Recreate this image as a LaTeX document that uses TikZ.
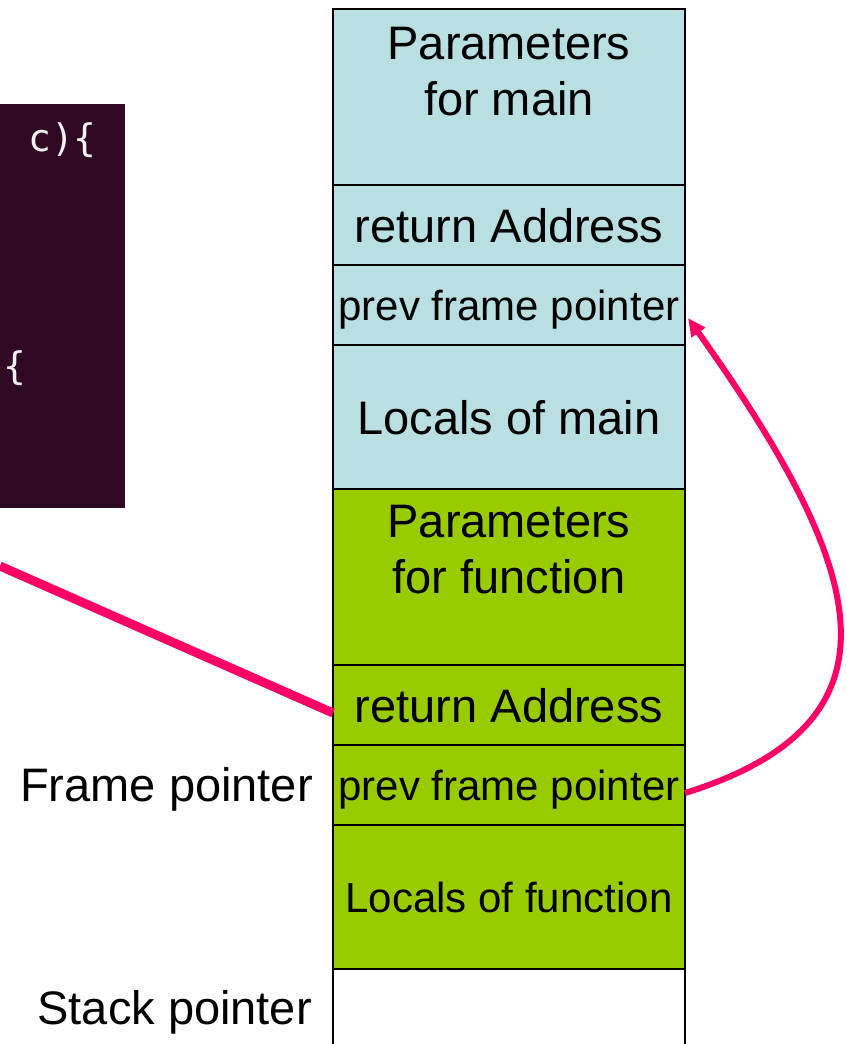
\documentclass[tikz,border=0pt]{standalone}
\usepackage{fontspec}
\setmainfont{Liberation Sans}
\newfontfamily\codefont{DejaVu Sans Mono}
\usetikzlibrary{arrows.meta}
\definecolor{mainblue}{HTML}{B9DFE3}
\definecolor{fungreen}{HTML}{99CC00}
\definecolor{ptrpink}{HTML}{FF0066}
\definecolor{codebg}{HTML}{300A24}
\definecolor{codetext}{HTML}{F2F2F2}
\tikzset{
  row/.style={draw=black, line width=2pt, minimum width=352pt, inner sep=0pt, outer sep=0pt, anchor=north west, text depth=0pt, font=\fontsize{47}{56}\selectfont},
  small/.style={font=\fontsize{42}{50}\selectfont},
  lbl/.style={font=\fontsize{47}{56}\selectfont, inner sep=0pt, align=center},
  side/.style={font=\fontsize{47}{56}\selectfont, inner sep=0pt, anchor=east},
  codetxt/.style={anchor=base east, inner sep=0pt, font=\codefont\fontsize{38}{44}\selectfont, text=codetext},
  ptr/.style={draw=ptrpink}
}
\begin{document}
\begin{tikzpicture}[x=1pt,y=-1pt]
\useasboundingbox (0,0) rectangle (846,1044);
% code panel
\fill[codebg] (0,104) rectangle (125,508);
\node[codetxt] (code1) at (97,151) {c)\{};
\node[codetxt] (code2) at (27,379) {\{};
% stack rows
\node[row, fill=mainblue, minimum height=176pt] (pm) at (333,9) {};
\node[row, fill=mainblue, minimum height=80pt] (ra1) at (333,185) {return Address};
\node[row, fill=mainblue, minimum height=80pt, small] (pfp1) at (333,265) {prev frame pointer};
\node[row, fill=mainblue, minimum height=144pt] (lm) at (333,345) {Locals of main};
\node[row, fill=fungreen, minimum height=176pt] (pf) at (333,489) {};
\node[row, fill=fungreen, minimum height=80pt] (ra2) at (333,665) {return Address};
\node[row, fill=fungreen, minimum height=80pt, small] (pfp2) at (333,745) {prev frame pointer};
\node[row, fill=fungreen, minimum height=144pt, small] (lf) at (333,825) {Locals of function};
\node[row, fill=white, minimum height=100pt] (sp) at (333,969) {};
\node[lbl, anchor=north] (pmt) at ([yshift=-18pt]pm.north) {Parameters\hspace{13pt}\\for main};
\node[lbl, anchor=north] (pft) at ([yshift=-16pt]pf.north) {Parameters\hspace{13pt}\\for function};
% side labels
\node[side] (fpl) at (313,789) {Frame pointer};
\node[side] (spl) at (312,1012) {Stack pointer};
% pointers
\coordinate (codeend) at (0,566);
\draw[ptr, line width=9pt] (codeend) -- ([yshift=-8pt]ra2.west);
\draw[ptr, line width=6pt, -{Triangle[length=18pt,width=16pt]}] ([yshift=-8pt]pfp2.east) .. controls (920,720) and (860,560) .. ([yshift=-13pt,xshift=3pt]pfp1.east);
\end{tikzpicture}
\end{document}
